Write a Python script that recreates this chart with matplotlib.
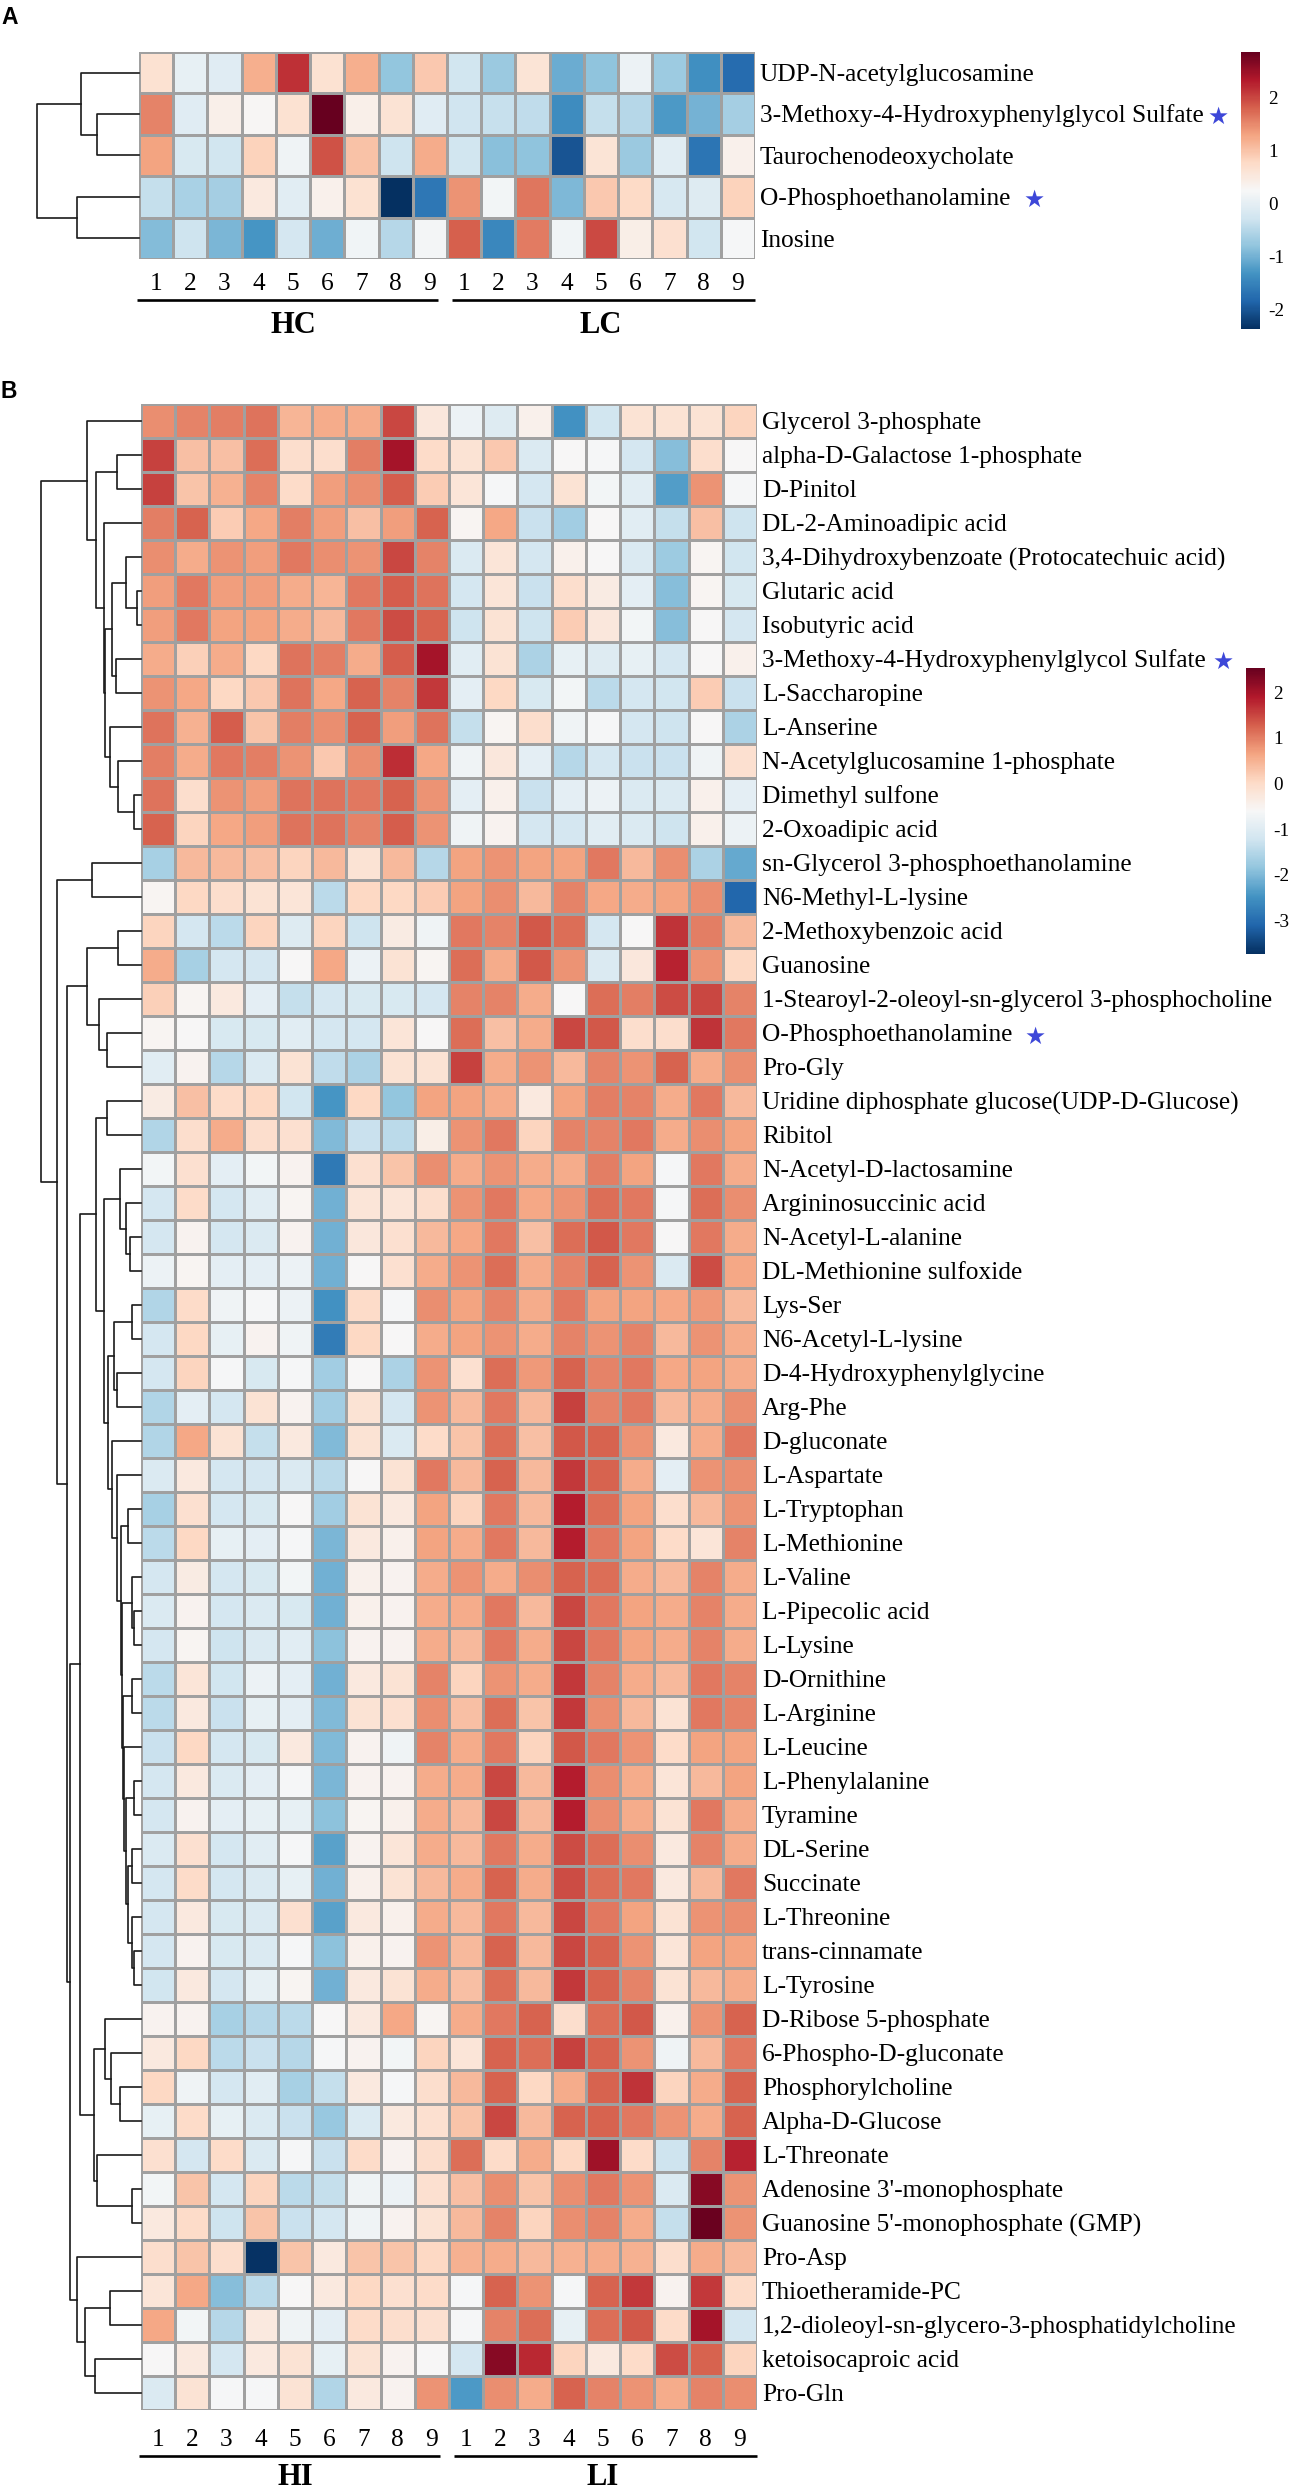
import matplotlib
matplotlib.use("Agg")
import matplotlib.pyplot as plt
import numpy as np
from matplotlib import transforms
from matplotlib.collections import LineCollection
from matplotlib.colors import Normalize

# =========================
# DATOS
# =========================

SAMPLE_NUMS = ["1", "2", "3", "4", "5", "6", "7", "8", "9",
               "1", "2", "3", "4", "5", "6", "7", "8", "9"]

# ---- Panel A ----
GROUPS_A = ["HC", "LC"]
LABELS_A = [
    "UDP-N-acetylglucosamine",
    "3-Methoxy-4-Hydroxyphenylglycol Sulfate",
    "Taurochenodeoxycholate",
    "O-Phosphoethanolamine",
    "Inosine",
]
VALUES_A = [
    [0.65, 0.03, -0.07, 1.2, 2.15, 0.65, 1.2, -0.78, 0.95, -0.25, -0.72, 0.6, -1.05, -0.8, 0.1, -0.7, -1.35, -1.75],
    [1.53, -0.08, 0.4, 0.27, 0.65, 2.85, 0.4, 0.63, -0.08, -0.28, -0.35, -0.42, -1.4, -0.38, -0.5, -1.25, -0.98, -0.65],
    [1.3, -0.18, -0.26, 0.85, 0.13, 1.9, 1.0, -0.3, 1.22, -0.25, -0.85, -0.8, -2.0, 0.6, -0.72, -0.05, -1.65, 0.38],
    [-0.38, -0.6, -0.65, 0.5, -0.06, 0.38, 0.65, -2.36, -1.63, 1.42, 0.18, 1.63, -0.92, 0.95, 0.77, -0.2, -0.1, 0.85],
    [-0.88, -0.3, -0.95, -1.3, -0.22, -1.02, 0.15, -0.5, 0.2, 1.81, -1.45, 1.6, 0.16, 1.97, 0.42, 0.66, -0.25, 0.22],
]
RANGE_A = (-2.36, 2.85)
CBAR_TICKS_A = [-2, -1, 0, 1, 2]
STARS_A = {1: 4, 3: 13}  # fila -> separacion en px
# arbol: [izq, der, altura]
TREE_A = [[0, [1, 2, 42], 58], [3, 4, 62], 102]

# ---- Panel B ----
GROUPS_B = ["HI", "LI"]
LABELS_B = [
    "Glycerol 3-phosphate",
    "alpha-D-Galactose 1-phosphate",
    "D-Pinitol",
    "DL-2-Aminoadipic acid",
    "3,4-Dihydroxybenzoate (Protocatechuic acid)",
    "Glutaric acid",
    "Isobutyric acid",
    "3-Methoxy-4-Hydroxyphenylglycol Sulfate",
    "L-Saccharopine",
    "L-Anserine",
    "N-Acetylglucosamine 1-phosphate",
    "Dimethyl sulfone",
    "2-Oxoadipic acid",
    "sn-Glycerol 3-phosphoethanolamine",
    "N6-Methyl-L-lysine",
    "2-Methoxybenzoic acid",
    "Guanosine",
    "1-Stearoyl-2-oleoyl-sn-glycerol 3-phosphocholine",
    "O-Phosphoethanolamine",
    "Pro-Gly",
    "Uridine diphosphate glucose(UDP-D-Glucose)",
    "Ribitol",
    "N-Acetyl-D-lactosamine",
    "Argininosuccinic acid",
    "N-Acetyl-L-alanine",
    "DL-Methionine sulfoxide",
    "Lys-Ser",
    "N6-Acetyl-L-lysine",
    "D-4-Hydroxyphenylglycine",
    "Arg-Phe",
    "D-gluconate",
    "L-Aspartate",
    "L-Tryptophan",
    "L-Methionine",
    "L-Valine",
    "L-Pipecolic acid",
    "L-Lysine",
    "D-Ornithine",
    "L-Arginine",
    "L-Leucine",
    "L-Phenylalanine",
    "Tyramine",
    "DL-Serine",
    "Succinate",
    "L-Threonine",
    "trans-cinnamate",
    "L-Tyrosine",
    "D-Ribose 5-phosphate",
    "6-Phospho-D-gluconate",
    "Phosphorylcholine",
    "Alpha-D-Glucose",
    "L-Threonate",
    "Adenosine 3'-monophosphate",
    "Guanosine 5'-monophosphate (GMP)",
    "Pro-Asp",
    "Thioetheramide-PC",
    "1,2-dioleoyl-sn-glycero-3-phosphatidylcholine",
    "ketoisocaproic acid",
    "Pro-Gln",
]
VALUES_B = [
    [0.85, 0.95, 1.0, 1.1, 0.45, 0.55, 0.55, 1.5, -0.25, -0.8, -1.0, -0.45, -2.5, -1.2, -0.15, -0.15, -0.15, 0.1],
    [1.55, 0.35, 0.35, 1.15, -0.05, -0.05, 1.0, 2.0, 0.0, -0.15, 0.25, -1.05, -0.6, -0.65, -1.15, -1.95, -0.05, -0.6],
    [1.55, 0.3, 0.5, 0.95, 0.0, 0.7, 0.85, 1.3, 0.2, -0.2, -0.65, -1.15, -0.15, -0.7, -0.95, -2.35, 0.8, -0.65],
    [1.0, 1.25, 0.2, 0.6, 1.0, 0.7, 0.35, 0.7, 1.25, -0.55, 0.6, -1.3, -1.7, -0.6, -0.95, -1.35, 0.35, -1.25],
    [0.85, 0.55, 0.8, 0.7, 1.05, 0.85, 0.8, 1.5, 0.95, -1.05, -0.2, -1.15, -0.45, -0.6, -1.05, -1.75, -0.55, -1.2],
    [0.7, 1.05, 0.7, 0.7, 0.55, 0.45, 1.05, 1.3, 1.1, -1.15, -0.2, -1.3, -0.05, -0.35, -0.9, -1.95, -0.55, -1.1],
    [0.7, 1.05, 0.65, 0.65, 0.55, 0.4, 1.05, 1.45, 1.25, -1.25, -0.15, -1.25, 0.2, -0.25, -0.7, -1.95, -0.6, -1.15],
    [0.55, 0.15, 0.55, 0.05, 1.1, 1.0, 0.55, 1.3, 2.0, -0.95, -0.15, -1.6, -0.85, -1.0, -0.85, -1.15, -0.6, -0.45],
    [0.8, 0.6, 0.05, 0.25, 1.1, 0.6, 1.25, 0.95, 1.6, -0.9, 0.05, -1.1, -0.7, -1.45, -1.15, -1.2, 0.2, -1.3],
    [1.1, 0.5, 1.3, 0.3, 1.0, 0.85, 1.25, 0.7, 1.1, -1.35, -0.55, -0.05, -0.75, -0.65, -1.15, -1.25, -0.6, -1.6],
    [1.0, 0.55, 1.05, 1.0, 0.8, 0.25, 0.85, 1.7, 0.6, -0.75, -0.25, -0.9, -1.5, -1.15, -1.3, -1.3, -0.75, -0.1],
    [1.1, -0.05, 0.8, 0.7, 1.1, 1.1, 1.05, 1.25, 0.8, -0.9, -0.45, -1.3, -0.9, -0.8, -1.05, -1.05, -0.45, -0.9],
    [1.25, 0.1, 0.6, 0.7, 1.1, 1.1, 0.95, 1.3, 0.8, -0.75, -0.5, -1.15, -1.15, -0.95, -1.05, -1.25, -0.45, -0.8],
    [-1.65, 0.4, 0.4, 0.35, 0.1, 0.4, -0.15, 0.4, -1.5, 0.65, 0.8, 0.65, 0.65, 1.05, 0.4, 0.85, -1.6, -2.2],
    [-0.55, 0.05, -0.05, -0.15, -0.2, -1.45, 0.05, 0.05, 0.2, 0.65, 0.85, 0.4, 0.95, 0.6, 0.55, 0.65, 0.85, -3.1],
    [0.1, -1.15, -1.45, 0.1, -1.0, 0.1, -1.25, -0.35, -0.75, 1.05, 0.95, 1.35, 1.15, -1.15, -0.6, 1.65, 1.0, 0.4],
    [0.55, -1.65, -1.15, -1.15, -0.6, 0.6, -0.8, -0.15, -0.55, 1.15, 0.55, 1.35, 0.8, -1.05, -0.25, 1.8, 0.8, 0.05],
    [0.15, -0.55, -0.3, -0.9, -1.35, -1.15, -1.1, -1.1, -1.15, 0.95, 0.95, 0.55, -0.6, 1.15, 1.0, 1.45, 1.5, 0.95],
    [-0.55, -0.6, -1.1, -1.1, -0.95, -1.15, -1.15, -0.2, -0.6, 1.15, 0.35, 0.55, 1.5, 1.35, -0.05, -0.05, 1.65, 1.05],
    [-0.95, -0.5, -1.5, -1.05, -0.15, -1.4, -1.6, -0.15, -0.15, 1.55, 0.55, 0.8, 0.4, 0.95, 0.8, 1.25, 0.55, 0.85],
    [-0.35, 0.35, 0.0, 0.05, -1.2, -2.45, 0.05, -1.85, 0.65, 0.65, 0.55, -0.3, 0.65, 1.0, 0.95, 0.55, 1.05, 0.4],
    [-1.55, -0.05, 0.55, -0.05, -0.1, -2.0, -1.3, -1.45, -0.4, 0.8, 1.05, 0.1, 0.95, 0.95, 1.05, 0.55, 0.85, 0.65],
    [-0.7, -0.1, -0.9, -0.7, -0.5, -2.85, -0.1, 0.3, 0.85, 0.55, 0.8, 0.55, 0.55, 1.0, 0.65, -0.65, 1.05, 0.55],
    [-1.15, 0.0, -1.15, -0.95, -0.55, -2.1, -0.2, -0.2, -0.05, 0.8, 1.05, 0.6, 0.8, 1.15, 1.05, -0.65, 1.15, 0.85],
    [-1.15, -0.5, -1.15, -1.05, -0.5, -2.1, -0.25, -0.1, 0.4, 0.6, 1.05, 0.35, 1.15, 1.35, 1.05, -0.6, 1.05, 0.55],
    [-0.8, -0.55, -0.9, -0.9, -0.8, -2.1, -0.6, -0.1, 0.55, 0.8, 1.15, 0.55, 0.95, 1.25, 0.8, -1.05, 1.45, 0.6],
    [-1.55, 0.0, -0.75, -0.65, -0.8, -2.5, 0.0, -0.65, 0.85, 0.65, 0.95, 0.55, 1.05, 0.65, 0.65, 0.6, 0.75, 0.4],
    [-1.15, 0.05, -0.85, -0.5, -0.75, -2.8, 0.05, -0.6, 0.55, 0.65, 0.8, 0.55, 0.95, 0.8, 0.95, 0.4, 0.8, 0.55],
    [-1.15, 0.1, -0.65, -1.1, -0.65, -1.7, -0.6, -1.6, 0.8, -0.1, 1.15, 0.75, 1.25, 0.95, 1.05, 0.6, 0.65, 0.55],
    [-1.55, -0.9, -1.15, -0.15, -0.5, -1.7, -0.15, -1.15, 0.8, 0.4, 1.05, 0.4, 1.55, 0.95, 1.05, 0.4, 0.55, 0.85],
    [-1.55, 0.6, -0.15, -1.35, -0.3, -2.0, -0.15, -1.05, 0.0, 0.3, 1.15, 0.35, 1.35, 1.25, 0.8, -0.3, 0.55, 1.05],
    [-1.05, -0.3, -1.15, -1.15, -1.05, -1.45, -0.6, -0.15, 1.05, 0.4, 1.25, 0.4, 1.6, 1.25, 0.55, -0.9, 0.8, 0.85],
    [-1.65, -0.1, -1.15, -1.1, -0.6, -1.7, -0.15, -0.3, 0.65, 0.1, 1.05, 0.4, 1.85, 1.15, 0.65, -0.05, 0.4, 0.8],
    [-1.45, 0.05, -0.85, -0.9, -0.65, -2.05, -0.3, -0.45, 0.65, 0.55, 1.05, 0.4, 1.85, 1.05, 0.65, 0.0, -0.2, 0.95],
    [-1.15, -0.35, -1.15, -1.1, -0.7, -2.1, -0.45, -0.5, 0.55, 0.8, 0.55, 0.85, 1.25, 1.15, 0.55, 0.4, 0.95, 0.55],
    [-1.05, -0.5, -1.15, -1.05, -1.1, -2.1, -0.45, -0.5, 0.55, 0.55, 1.05, 0.4, 1.5, 1.05, 0.65, 0.55, 0.95, 0.55],
    [-1.15, -0.55, -1.25, -1.05, -0.95, -1.9, -0.5, -0.5, 0.55, 0.4, 1.05, 0.55, 1.5, 1.05, 0.65, 0.55, 0.95, 0.55],
    [-1.45, -0.2, -1.2, -0.8, -0.9, -2.1, -0.3, -0.15, 0.95, 0.1, 0.8, 0.55, 1.6, 0.95, 0.55, 0.4, 1.05, 0.95],
    [-1.45, -0.3, -1.3, -0.85, -0.9, -2.0, -0.15, -0.1, 0.85, 0.35, 1.15, 0.3, 1.6, 0.85, 0.4, -0.15, 1.05, 0.95],
    [-1.3, 0.05, -1.15, -1.1, -0.3, -2.0, -0.5, -0.75, 0.95, 0.55, 1.05, 0.1, 1.35, 1.05, 0.8, 0.0, 0.65, 0.65],
    [-1.15, -0.3, -1.05, -0.9, -0.65, -2.05, -0.5, -0.5, 0.55, 0.55, 1.5, 0.4, 1.85, 0.85, 0.55, -0.2, 0.4, 0.65],
    [-1.15, -0.5, -0.9, -0.85, -0.85, -1.9, -0.55, -0.45, 0.55, 0.4, 1.5, 0.4, 1.85, 0.85, 0.55, -0.15, 1.05, 0.55],
    [-1.05, -0.1, -1.15, -0.95, -0.65, -2.3, -0.5, -0.2, 0.55, 0.4, 1.05, 0.55, 1.45, 1.15, 0.85, -0.3, 0.95, 0.55],
    [-1.15, 0.0, -1.15, -1.05, -0.85, -2.1, -0.45, -0.15, 0.4, 0.55, 1.25, 0.55, 1.45, 1.15, 1.05, -0.3, 0.4, 1.05],
    [-1.15, -0.3, -1.1, -1.05, -0.1, -2.3, -0.3, -0.45, 0.55, 0.4, 1.05, 0.4, 1.5, 1.05, 0.65, -0.15, 0.8, 0.85],
    [-1.15, -0.5, -1.1, -1.05, -0.65, -1.9, -0.45, -0.5, 0.8, 0.4, 1.25, 0.4, 1.5, 1.25, 0.8, -0.2, 0.65, 0.65],
    [-1.2, -0.3, -1.15, -0.85, -0.55, -2.1, -0.3, -0.15, 0.55, 0.35, 1.15, 0.4, 1.6, 1.25, 0.95, -0.15, 0.4, 0.55],
    [-0.5, -0.5, -1.65, -1.5, -1.45, -0.6, -0.3, 0.6, -0.55, 0.55, 1.05, 1.25, -0.05, 1.15, 1.35, -0.45, 0.8, 1.25],
    [-0.3, 0.05, -1.45, -1.3, -1.5, -0.65, -0.5, -0.7, 0.1, -0.2, 1.25, 1.15, 1.55, 1.25, 0.8, -0.75, 0.4, 1.05],
    [0.05, -0.75, -1.15, -0.95, -1.65, -1.35, -0.3, -0.65, -0.05, 0.4, 1.25, 0.05, 0.55, 1.25, 1.65, 0.1, 0.55, 1.25],
    [-0.85, 0.0, -0.85, -1.05, -1.3, -1.8, -1.05, -0.3, -0.1, 0.3, 1.5, 0.4, 1.25, 1.25, 1.05, 0.8, 0.55, 1.25],
    [-0.1, -1.15, 0.0, -1.05, -0.65, -1.3, 0.0, -0.5, -0.05, 1.15, 0.0, 0.55, 0.05, 2.05, 0.0, -1.25, 0.95, 1.8],
    [-0.7, 0.3, -1.15, 0.1, -1.45, -1.35, -0.75, -0.8, -0.1, 0.35, 0.85, 0.3, 0.85, 1.05, 0.8, -1.05, 2.25, 0.8],
    [-0.3, 0.0, -1.25, 0.3, -1.3, -1.15, -0.75, -0.5, -0.15, 0.4, 0.95, 0.1, 0.85, 0.95, 0.55, -1.35, 2.5, 0.8],
    [-0.05, 0.3, -0.05, -3.7, 0.3, -0.3, 0.3, 0.3, 0.05, 0.5, 0.55, 0.4, 0.5, 0.55, 0.5, -0.05, 0.55, 0.4],
    [-0.2, 0.6, -1.95, -1.45, -0.6, -0.3, 0.05, -0.1, 0.0, -0.65, 1.25, 0.8, -0.65, 1.25, 1.6, -0.5, 1.6, 0.0],
    [0.6, -0.7, -1.5, -0.3, -0.75, -0.9, 0.0, -0.05, -0.1, -0.65, 0.95, 1.15, -0.85, 1.15, 1.35, 0.0, 2.0, -1.15],
    [-0.6, -0.3, -1.15, -0.3, -0.15, -0.85, -0.15, -0.5, -0.6, -1.15, 2.25, 1.75, 0.1, -0.3, 0.0, 1.45, 1.25, 0.1],
    [-1.05, -0.15, -0.65, -0.65, -0.15, -1.55, -0.3, -0.5, 0.8, -2.4, 0.85, 0.55, 1.25, 0.95, 0.8, 0.55, 0.95, 0.85],
]
RANGE_B = (-3.74, 2.53)
CBAR_TICKS_B = [-3, -2, -1, 0, 1, 2]
STARS_B = {7: 7, 18: 12}

# arbol de filas B (indices 0-based), nodo = [izq, der, altura]
B_TOP = [0, [[1, 2, 24], [3, [[[4, [5, 6, 4], 15.4], [7, 8, 25], 29],
                              [9, [10, [11, 12, 6.6], 22.7], 31], 35.8], 37], 44.6], 54]
B_16_20 = [[15, 16, 23], [17, [18, 19, 34], 42], 53.7]
B_23_26 = [22, [23, [24, 25, 11], 15], 21]
B_27_30 = [[26, 27, 9.3], [28, 29, 23.7], 26.7]
B_Z6 = [44, [45, 46, 6.7], 9.3]
B_Z5 = [[42, 43, 9.3], B_Z6, 13.3]
B_Z4 = [[40, 41, 7.4], B_Z5, 15]
B_Z3 = [39, B_Z4, 17]
B_Z2 = [[37, 38, 9.3], B_Z3, 17.7]
B_Z = [[34, [35, 36, 6.7], 9.3], B_Z2, 19.3]
B_33_47 = [[32, 33, 12.7], B_Z, 20.3]
B_31_47 = [30, [31, B_33_47, 24.5], 29.3]
B_21_47 = [[20, 21, 34.3], [B_23_26, [B_27_30, B_31_47, 32.7], 37], 45]
B_48_54 = [[47, [48, [49, 50, 20.7], 30], 36.3], [51, [52, 53, 9.5], 43.6], 47]
B_55_59 = [54, [[55, 56, 31.4], [57, 58, 46], 55.8], 64.5]
B_BOTTOM = [[13, 14, 49], [B_16_20, [[B_21_47, B_48_54, 60.6], B_55_59, 71.3], 73.7], 83.7]
TREE_B = [B_TOP, B_BOTTOM, 100]

# =========================
# ESTILO / LAYOUT (px)
# =========================
W, H = 1292, 2491
DPI = 100
SERIF = "Liberation Serif"
STAR_COLOR = "#3d47d8"
BORDER = "#a0a0a0"

plt.rcParams["axes.unicode_minus"] = False
plt.rcParams["font.family"] = SERIF

LAYOUT_A = {
    "heat": (139, 52, 755, 259),
    "dendro_w": 111,
    "cbar": (1241, 52, 1260, 329),
    "num_base": 31.5,
    "line_off": 41,
    "group_base": 74,
    "letter": "A",
    "letter_y": 6,
}
LAYOUT_B = {
    "heat": (141, 404, 757, 2410),
    "dendro_w": 111,
    "cbar": (1246, 668, 1265, 954),
    "num_base": 36,
    "line_off": 46,
    "group_base": 75,
    "letter": "B",
    "letter_y": 380,
}
LINE_INSET_LEFT = [-0.06, 0.16]
LINE_INSET_RIGHT = [-0.25, 0.0]


def add_px_axes(fig, x0, y0, x1, y1):
    return fig.add_axes([x0 / W, 1 - y1 / H, (x1 - x0) / W, (y1 - y0) / H])


def tree_segments(node, segs):
    if isinstance(node, int):
        return float(node), 0.0
    left, right, h = node
    y1, h1 = tree_segments(left, segs)
    y2, h2 = tree_segments(right, segs)
    segs.append([(h1, y1), (h, y1), (h, y2), (h2, y2)])
    return (y1 + y2) / 2, h


def draw_panel(fig, values, labels, tree, vrange, ticks, groups, stars, lay):
    data = np.array(values)
    n_rows, n_cols = data.shape
    x0, y0, x1, y1 = lay["heat"]

    # heatmap
    ax = add_px_axes(fig, x0, y0, x1, y1)
    norm = Normalize(vmin=vrange[0], vmax=vrange[1])
    mesh = ax.pcolormesh(np.arange(n_cols + 1) - 0.5, np.arange(n_rows + 1) - 0.5, data,
                         cmap="RdBu_r", norm=norm, edgecolors=BORDER, linewidth=1.0)
    ax.set_xlim(-0.5, n_cols - 0.5)
    ax.set_ylim(n_rows - 0.5, -0.5)
    ax.set_axis_off()

    # etiquetas de filas
    lab_tr = transforms.offset_copy(
        transforms.blended_transform_factory(ax.transAxes, ax.transData),
        fig=fig, x=5, y=-8.3, units="dots")
    for i, lab in enumerate(labels):
        t = ax.text(1.0, i, lab, transform=lab_tr, ha="left", va="baseline",
                    fontsize=18.3, family=SERIF, color="black")
        if i in stars:
            ax.annotate("\u2605", xy=(1, 0.45), xycoords=t, xytext=(stars[i], 0),
                        textcoords="offset pixels", ha="left", va="center",
                        fontsize=17, color=STAR_COLOR, family="DejaVu Sans")

    # numeros de muestra
    num_tr = transforms.offset_copy(ax.transData, fig=fig, x=0, y=-lay["num_base"], units="dots")
    for j, s in enumerate(SAMPLE_NUMS[:n_cols]):
        ax.text(j, n_rows - 0.5, s, transform=num_tr, ha="center", va="baseline",
                fontsize=18.3, family=SERIF)

    # lineas y nombres de grupo
    per = n_cols // len(groups)
    line_tr = transforms.offset_copy(ax.transData, fig=fig, x=0, y=-lay["line_off"], units="dots")
    grp_tr = transforms.offset_copy(ax.transData, fig=fig, x=0, y=-lay["group_base"], units="dots")
    for g, name in enumerate(groups):
        a = g * per - 0.5 + LINE_INSET_LEFT[g]
        b = (g + 1) * per - 0.5 + LINE_INSET_RIGHT[g]
        ax.plot([a, b], [n_rows - 0.5, n_rows - 0.5], transform=line_tr, color="black",
                lw=1.9, clip_on=False, solid_capstyle="butt")
        ax.text(g * per + (per - 1) / 2, n_rows - 0.5, name, transform=grp_tr,
                ha="center", va="baseline", fontsize=22, fontweight="bold", family=SERIF)

    # dendrograma
    axd = add_px_axes(fig, x0 - lay["dendro_w"], y0, x0, y1)
    segs = []
    tree_segments(tree, segs)
    axd.add_collection(LineCollection(segs, colors="#1a1a1a", linewidths=1.2,
                                      capstyle="projecting", clip_on=False))
    axd.set_xlim(lay["dendro_w"], 0)
    axd.set_ylim(n_rows - 0.5, -0.5)
    axd.set_axis_off()

    # barra de color
    cx0, cy0, cx1, cy1 = lay["cbar"]
    cax = add_px_axes(fig, cx0, cy0, cx1, cy1)
    cb = fig.colorbar(mesh, cax=cax, ticks=ticks)
    cb.outline.set_visible(False)
    cax.tick_params(length=0, pad=6, labelsize=13.8)
    for tl in cax.get_yticklabels():
        tl.set_family(SERIF)

    fig.text(1 / W, 1 - lay["letter_y"] / H, lay["letter"], ha="left", va="top",
             fontsize=16.5, fontweight="bold", family="Liberation Sans")


def main() -> None:
    fig = plt.figure(figsize=(W / DPI, H / DPI), dpi=DPI)
    draw_panel(fig, VALUES_A, LABELS_A, TREE_A, RANGE_A, CBAR_TICKS_A, GROUPS_A, STARS_A, LAYOUT_A)
    draw_panel(fig, VALUES_B, LABELS_B, TREE_B, RANGE_B, CBAR_TICKS_B, GROUPS_B, STARS_B, LAYOUT_B)
    fig.savefig("out.png", dpi=DPI)


if __name__ == "__main__":
    main()
